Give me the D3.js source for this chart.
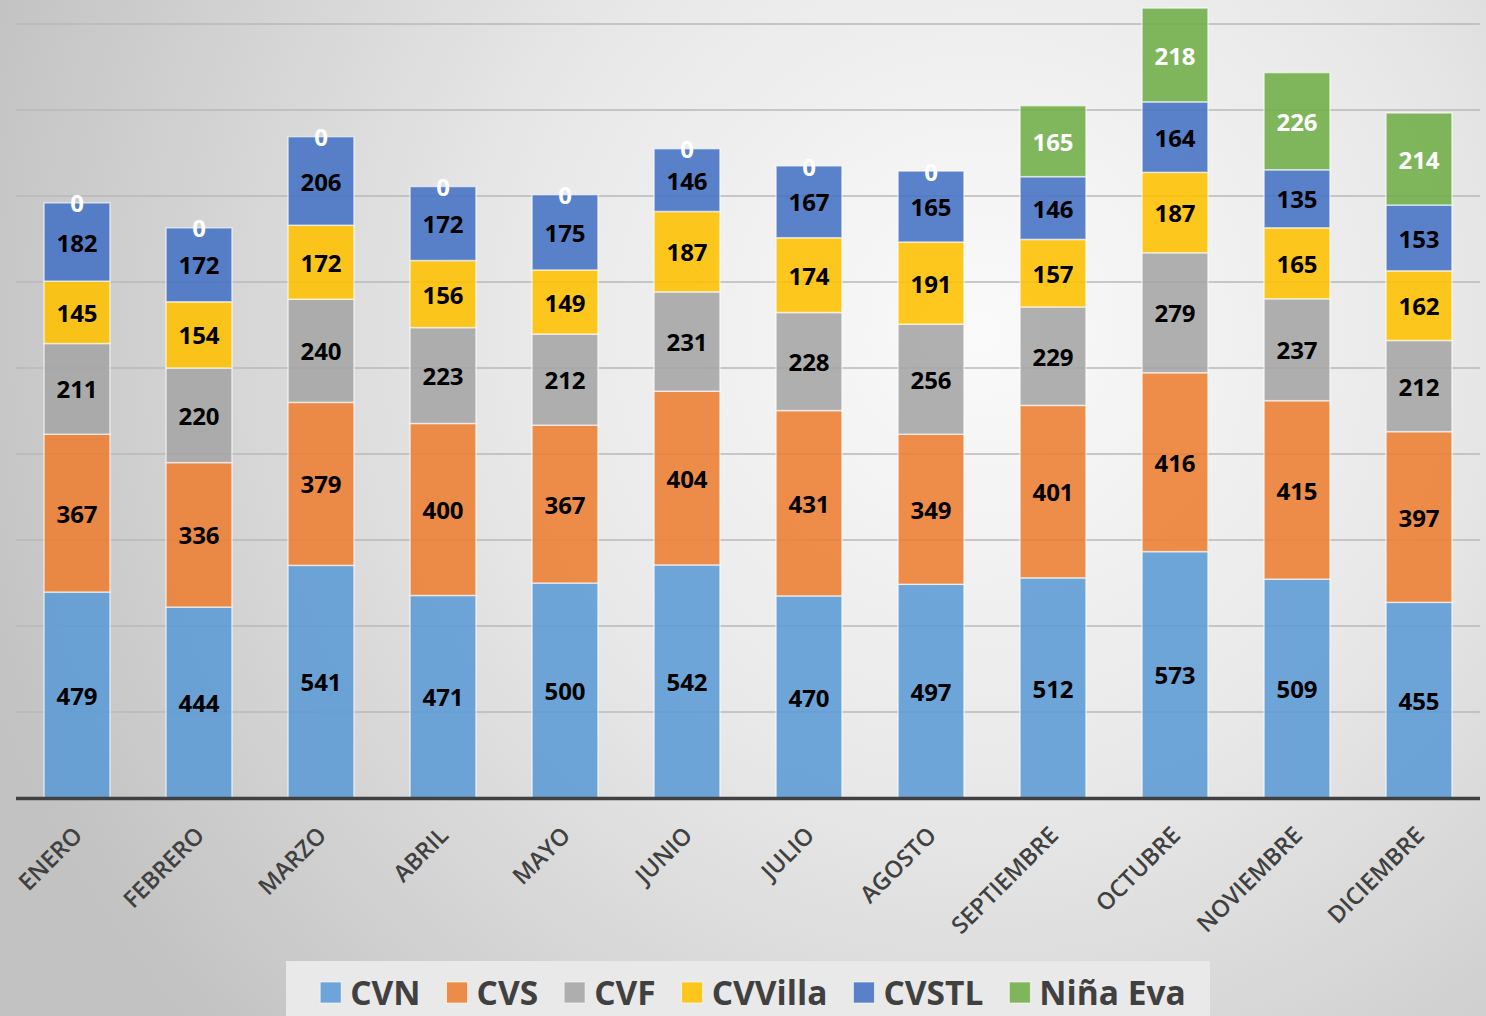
<!DOCTYPE html>
<html><head><meta charset="utf-8">
<script src="https://cdn.jsdelivr.net/npm/d3@7"></script>
<style>html,body{margin:0;padding:0;overflow:hidden;background:#ddd}</style>
</head><body>
<svg id="chart" width="1486" height="1016"></svg>
<script>
const months = ["ENERO","FEBRERO","MARZO","ABRIL","MAYO","JUNIO","JULIO","AGOSTO","SEPTIEMBRE","OCTUBRE","NOVIEMBRE","DICIEMBRE"];
const seriesNames = ["CVN","CVS","CVF","CVVilla","CVSTL","Niña Eva"];
const CVN    = [479,444,541,471,500,542,470,497,512,573,509,455];
const CVS    = [367,336,379,400,367,404,431,349,401,416,415,397];
const CVF    = [211,220,240,223,212,231,228,256,229,279,237,212];
const CVVilla= [145,154,172,156,149,187,174,191,157,187,165,162];
const CVSTL  = [182,172,206,172,175,146,167,165,146,164,135,153];
const NinaEva= [0,0,0,0,0,0,0,0,165,218,226,214];
const yTicks = [0,200,400,600,800,1000,1200,1400,1600,1800];
const colors = ["#5B9BD5","#ED7D31","#A5A5A5","#FFC000","#4472C4","#70AD47"];
const labelColors = ["#000","#000","#000","#000","#000","#fff"];

const seriesVals = [CVN,CVS,CVF,CVVilla,CVSTL,NinaEva];
const rows = months.map((m,i)=>{const r={month:m}; seriesNames.forEach((s,j)=>r[s]=seriesVals[j][i]); return r;});
const stack = d3.stack().keys(seriesNames)(rows);

const W=1486,H=1016;
const svg=d3.select("#chart");
const defs=svg.append("defs");
const grad=defs.append("radialGradient").attr("id","bg").attr("gradientUnits","userSpaceOnUse")
  .attr("cx",980).attr("cy",330).attr("r",1050);
grad.append("stop").attr("offset","0").attr("stop-color","#fafafa");
grad.append("stop").attr("offset","0.45").attr("stop-color","#e8e8e8");
grad.append("stop").attr("offset","1").attr("stop-color","#c2c2c2");
svg.append("rect").attr("width",W).attr("height",H).attr("fill","url(#bg)");

const x=d3.scaleBand().domain(months).range([16,1480]).paddingInner(0.46).paddingOuter(0.23);
const y=d3.scaleLinear().domain([0,1800]).range([798,24]);

// gridlines
svg.append("g").selectAll("line").data(yTicks.filter(t=>t>0)).join("line")
  .attr("x1",16).attr("x2",1480).attr("y1",d=>y(d)).attr("y2",d=>y(d))
  .attr("stroke","#b9b9b9").attr("stroke-width",1.5);

// bars
const g=svg.append("g");
stack.forEach((layer,li)=>{
  g.append("g").selectAll("rect").data(layer.filter(d=>d[1]-d[0]>0)).join("rect")
    .attr("x",d=>x(d.data.month)).attr("width",x.bandwidth())
    .attr("y",d=>y(d[1])).attr("height",d=>y(d[0])-y(d[1]))
    .attr("fill",colors[li]).attr("fill-opacity",0.88)
    .attr("stroke","#ffffff").attr("stroke-opacity",0.6).attr("stroke-width",1.5);
});
// labels
stack.forEach((layer,li)=>{
  g.append("g").selectAll("text").data(layer).join("text")
    .attr("x",d=>x(d.data.month)+x.bandwidth()/2)
    .attr("y",d=>(y(d[0])+y(d[1]))/2)
    .attr("dy","0.4em").attr("text-anchor","middle")
    .attr("font-family","'Open Sans', sans-serif").attr("font-weight",700).attr("font-size",24)
    .attr("fill",labelColors[li])
    .text(d=>d[1]-d[0]);
});

// axis line
svg.append("line").attr("x1",16).attr("x2",1480).attr("y1",y(0)+0.5).attr("y2",y(0)+0.5)
  .attr("stroke","#404040").attr("stroke-width",3.5);

// month labels
const xAxis=d3.axisBottom(x).tickSize(0).tickPadding(0);
const ax=svg.append("g").attr("transform",`translate(0,${y(0)})`).call(xAxis);
ax.select(".domain").remove();
ax.selectAll("text")
  .attr("font-family","'Open Sans', sans-serif").attr("font-weight",600).attr("font-size",23.5)
  .attr("fill","#404040").attr("text-anchor","end")
  .attr("dy","0.35em").attr("y",0)
  .attr("transform","translate(1,33) rotate(-45)");

// legend
const lg=svg.append("g");
lg.append("rect").attr("x",286).attr("y",961).attr("width",924).attr("height",60).attr("fill","#e9e9e9");
const items=lg.selectAll("g.it").data(seriesNames).join("g").attr("class","it");
items.append("rect").attr("width",21).attr("height",21).attr("y",982)
  .attr("fill",(d,i)=>colors[i]).attr("fill-opacity",0.88).attr("stroke","#fff").attr("stroke-opacity",0.6);
items.append("text").attr("x",30).attr("y",1004.5)
  .attr("font-family","'Open Sans', sans-serif").attr("font-weight",700).attr("font-size",33.5)
  .attr("fill","#404040").text(d=>d);
let widths=[];
items.each(function(){widths.push(this.getBBox().width);});
const gap=26;
const total=d3.sum(widths)+gap*(widths.length-1);
let cx=753-total/2;
items.each(function(d,i){d3.select(this).attr("transform",`translate(${cx},0)`); cx+=widths[i]+gap;});
</script>
</body></html>
